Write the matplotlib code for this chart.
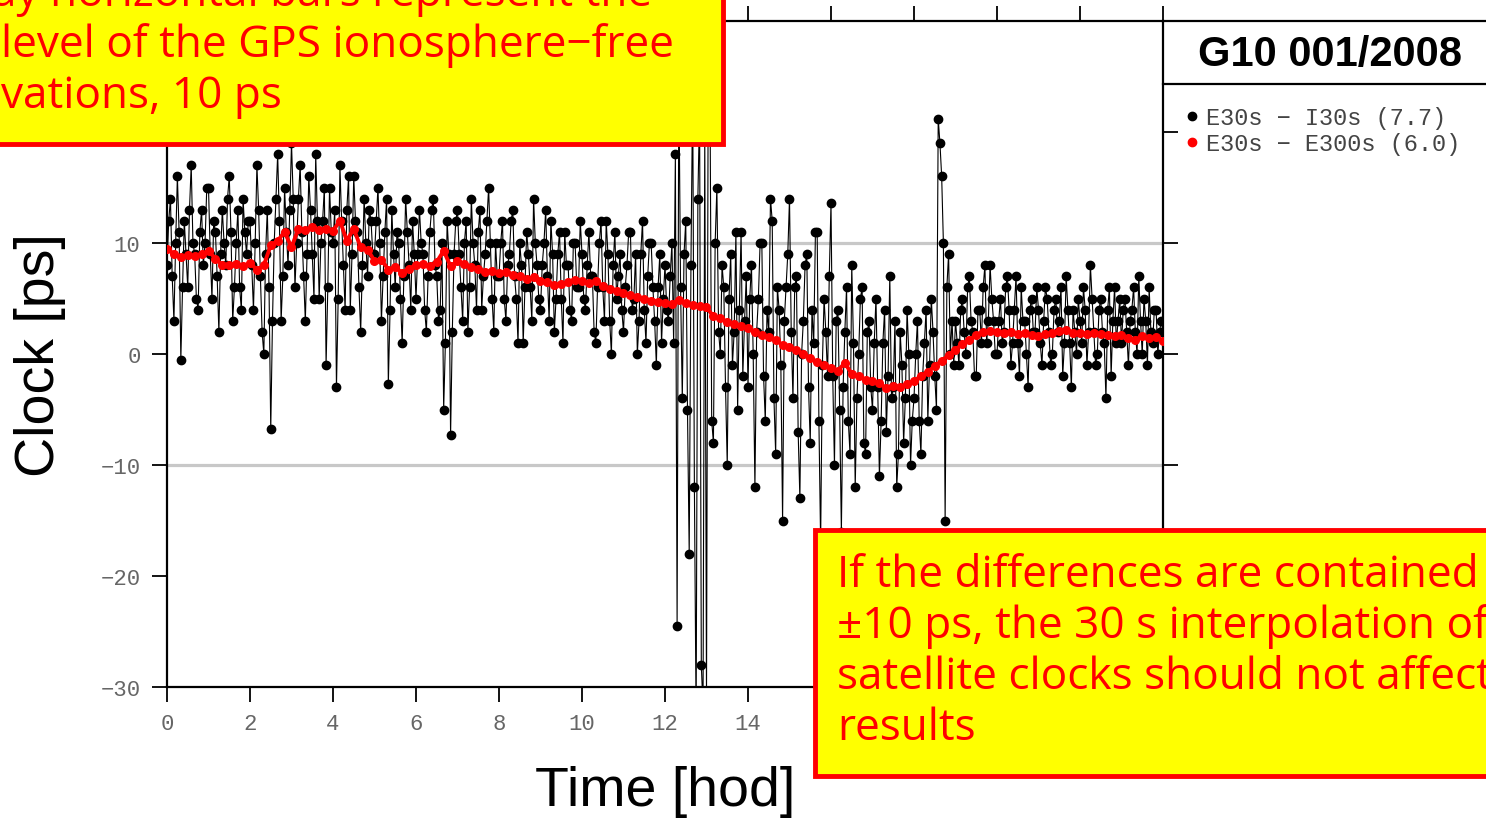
import numpy as np
import matplotlib.pyplot as plt
from matplotlib.patches import Rectangle
from matplotlib.lines import Line2D

# E30s - I30s, 2.5 min samples (ps), one row per hour
e30_i30 = [
    8, 12, 14, 7, 3, 10, 16, 11, -0.5, 6, 12, 9, 6, 13, 17, 10, 9, 5, 4, 11, 13, 8, 10, 15,
    15, 9, 5, 12, 11, 7, 2, 9, 13, 10, 8, 14, 16, 11, 3, 6, 10, 13, 6, 4, 14, 11, 9, 12,
    12, 8, 4, 10, 17, 13, 7, 2, 0, 9, 13, 6, -6.8, 3, 10, 14, 18, 12, 3, 7, 15, 11, 8, 13,
    19, 14, 6, 10, 14, 17, 11, 7, 3, 9, 16, 13, 9, 5, 18, 12, 5, 10, 12, 15, -1, 6, 15, 11,
    10, 13, -3, 5, 17, 12, 8, 4, 13, 16, 4, 9, 16, 12, 11, 6, 2, 8, 14, 10, 7, 13, 12, 9,
    9, 12, 15, 10, 3, 7, 11, 14, -2.7, 4, 13, 9, 6, 11, 10, 5, 1, 7, 14, 11, 8, 4, 12, 9,
    5, 9, 13, 10, 9, 4, 2, 7, 11, 13, 14, 8, 7, 3, 4, 10, -5, 1, 12, 9, -7.3, 2, 9, 12,
    13, 9, 6, 3, 10, 12, 2, 6, 14, 10, 8, 4, 11, 13, 4, 7, 9, 12, 15, 10, 5, 2, 10, 7,
    7, 10, 12, 5, 3, 8, 9, 12, 13, 7, 5, 1, 10, 8, 1, 6, 11, 9, 6, 3, 14, 10, 8, 5,
    4, 8, 10, 13, 7, 3, 12, 9, 2, 5, 9, 11, 5, 1, 11, 8, 8, 4, 3, 10, 10, 6, 6, 12,
    9, 5, 4, 8, 11, 7, 7, 2, 1, 6, 10, 12, 6, 3, 12, 9, 3, 0, 8, 11, 5, 7, 9, 4,
    2, 6, 8, 11, 11, 4, 5, 9, 0, 3, 9, 12, 4, 1, 7, 10, 10, 6, 3, -1, 6, 9, 1, 5,
    8, 4, 3, 7, 10, 1, 18, -24.5, 25, 6, -4, 9, 12, -5, -18, 8, 24, -12, -33, 14, 22, -28, -32, 20,
    -31, 26, 24, -6, -8, 10, 15, 2, 0, 8, 6, -3, -10, 5, 9, -1, 2, 11, -5, 4, 11, -2, 3, 7,
    -3, 5, 8, 0, -12, 2, 5, 10, 10, -2, -6, 4, 2, 14, 12, -4, -9, 6, 4, -1, -15, 3, 6, 9,
    14, 2, -4, 6, 7, -7, -13, 0, 3, 8, 9, -3, -8, 4, 1, 11, 11, -6, -17, -1, 5, 2, -2, 7,
    13.6, -2, -10, 3, 4, -5, -16, -3, 2, 6, -6, -9, 8, 1, -12, -4, 0, 5, 6, -8, -9, 2, 3, -3,
    -5, 1, 5, -3, -11, -6, 1, 4, -7, -2, 7, -4, -3, 3, -12, -9, 2, -1, -8, -4, 4, 0, -10, -6,
    -4, 0, 3, -6, -9, -2, 1, 4, -6, -1, 5, 2, -2, -5, 21.2, 19, 16, 10, -15, 6, 9, 0, 3, -1,
    3, 1, -1, 4, 5, 2, 0, 6, 7, 3, 2, -2, -2, 4, 4, 1, 6, 8, 1, 3, 8, 5, 3, 0,
    0, 3, 5, 1, 2, 6, 7, 4, -1, 1, 4, 7, 1, -2, 6, 3, 3, 0, -3, 4, 5, 2, 2, 6,
    4, 1, -1, 3, 6, 5, 2, -1, 0, 4, 5, 2, 3, 6, -2, 1, 7, 4, 1, -3, 4, 2, 0, 5,
    3, 1, 6, 4, -1, 2, 8, 5, 2, -1, 0, 4, 5, 2, 1, -4, 4, 6, -2, 3, 6, 1, 3, 5,
    1, 4, 5, 2, -1, 3, 4, 6, 2, 0, 7, 3, 0, 5, 3, -1, 6, 2, 1, 4, 4, 0, 2, 3,
    2,
]

# E30s - E300s, 10 min samples (ps)
e30_e300 = [
    9.5, 9.0, 8.7, 8.9, 8.8, 9.0, 9.3, 8.6, 8.0, 8.0, 8.1, 7.9,
    8.2, 7.6, 8.0, 9.8, 10.2, 11.0, 9.6, 11.3, 11.2, 11.4, 11.2, 11.3,
    11.1, 12.0, 10.2, 11.3, 9.6, 9.4, 8.4, 8.5, 7.6, 7.8, 7.3, 7.7,
    8.0, 8.1, 7.9, 8.3, 9.3, 7.9, 8.4, 8.1, 7.8, 7.7, 7.4, 7.5,
    7.3, 7.4, 7.1, 7.0, 6.8, 6.9, 6.6, 6.5, 6.2, 6.3, 6.5, 6.7,
    6.6, 6.4, 6.6, 6.1, 5.9, 5.7, 5.5, 5.3, 5.1, 5.0, 4.8, 4.7,
    4.6, 4.5, 4.9, 4.6, 4.4, 4.3, 4.2, 3.4, 3.2, 2.9, 2.7, 2.5,
    2.3, 2.0, 1.7, 1.5, 1.3, 0.8, 0.6, 0.4, 0.0, -0.4, -0.7, -1.0,
    -1.3, -1.5, -0.8, -1.8, -2.0, -2.3, -2.4, -2.6, -3.1, -2.9, -3.0, -2.7,
    -2.4, -2.0, -1.6, -1.1, -0.6, -0.1, 0.4, 0.9, 1.3, 1.7, 2.0, 2.1,
    2.0, 1.9, 2.0, 1.8, 1.9, 1.7, 1.6, 1.8, 1.9, 2.1, 2.2, 1.9,
    1.9, 1.8, 1.9, 1.8, 1.7, 1.6, 1.7, 1.4, 1.3, 1.6, 1.4, 1.5,
    1.2,
]

legend_labels = ['E30s \u2212 I30s (7.7)', 'E30s \u2212 E300s (6.0)']
title = 'G10 001/2008'
x_ticks = list(range(0, 25, 2))
# labels under the yellow notes are hidden in the original
x_tick_labels = ['0', '2', '4', '6', '8', '10', '12', '14', '', '', '', '', '']
y_ticks = list(range(-30, 31, 10))
y_tick_labels = ['\u221230', '\u221220', '\u221210', '0', '10', '', '']
grid_levels = [-10, 10]

note_top = ['ay horizontal bars represent the',
            'level of the GPS ionosphere\u2212free',
            'vations, 10 ps']
note_bottom = ['If the differences are contained',
               '\u00b110 ps, the 30 s interpolation of',
               'satellite clocks should not affect',
               'results']

W, H = 1486, 820


def fx(px):
    return px / W


def fy(py):
    return 1 - py / H


plt.rcParams['font.family'] = 'Liberation Mono'
fig = plt.figure(figsize=(W / 100, H / 100), dpi=100)
ax = fig.add_axes([fx(167), fy(688), fx(1163) - fx(167), fy(22) - fy(688)])

t_black = np.arange(len(e30_i30)) * 2.5 / 60
t_red = np.arange(len(e30_e300)) * 10 / 60

for g in grid_levels:
    ax.axhline(g, color='#c8c8c8', lw=2.3, zorder=1)
ax.plot(t_black, e30_i30, '-o', color='black', lw=0.8, ms=6, zorder=2)
ax.plot(t_red, e30_e300, '-o', color='red', lw=2.8, ms=5.5, zorder=3)

ax.set_xlim(0, 24)
ax.set_ylim(-30, 30)
ax.set_xticks(x_ticks, x_tick_labels)
ax.set_yticks(y_ticks, y_tick_labels)
ax.tick_params(direction='out', length=11, width=1.3, top=True, right=True,
               labelsize=16, labelcolor='#666666', pad=8)
for s in ax.spines.values():
    s.set_linewidth(1.6)

fig.text(fx(665), fy(792), 'Time [hod]', ha='center', va='center',
         fontsize=40, family='Liberation Sans')
fig.text(fx(40), fy(355), 'Clock [ps]', ha='center', va='center',
         rotation=90, fontsize=40, family='Liberation Sans')

# right-hand info panel
fig.add_artist(Line2D([fx(1163), 1], [fy(22), fy(22)], color='black', lw=1.6))
fig.add_artist(Line2D([fx(1163), 1], [fy(85), fy(85)], color='black', lw=1.6))
fig.text(fx(1330), fy(55), title, ha='center', va='center', fontsize=30,
         fontweight='bold', family='Liberation Sans')
handles = [Line2D([], [], ls='', marker='o', color='black', ms=6),
           Line2D([], [], ls='', marker='o', color='red', ms=6)]
fig.legend(handles, legend_labels, loc='upper left',
           bbox_to_anchor=(fx(1186), fy(107)), frameon=False,
           prop={'family': 'Liberation Mono', 'size': 17}, labelcolor='#444444',
           handlelength=0.5, handletextpad=0.35, labelspacing=0.12,
           borderpad=0, borderaxespad=0)

# yellow note boxes
fig.add_artist(Rectangle((fx(-10), fy(145)), fx(723) - fx(-10), fy(-10) - fy(145),
                         facecolor='#ffff00', edgecolor='#ff0000', lw=3.5, zorder=10))
for i, line in enumerate(note_top):
    fig.text(fx(-8 if i == 0 else 1), fy(6 + 51 * i), line, color='#ff0000',
             fontsize=31.8, family='Open Sans', va='baseline', zorder=11)

fig.add_artist(Rectangle((fx(815), fy(777)), fx(1510) - fx(815), fy(531) - fy(777),
                         facecolor='#ffff00', edgecolor='#ff0000', lw=3.5, zorder=10))
for i, line in enumerate(note_bottom):
    fig.text(fx(837), fy(587 + 51 * i), line, color='#ff0000',
             fontsize=31.8, family='Open Sans', va='baseline', zorder=11)

fig.savefig('out.png', dpi=100)
